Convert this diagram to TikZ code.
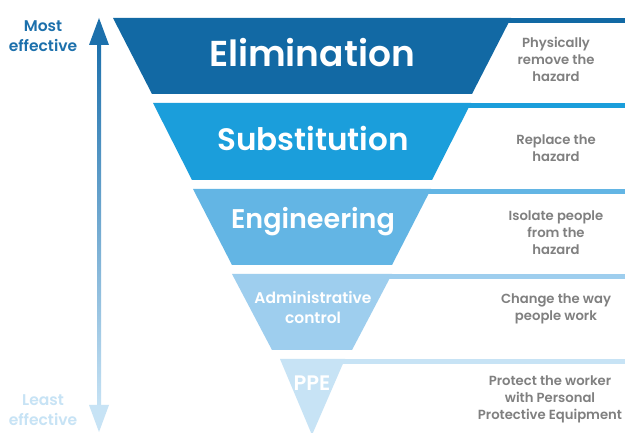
\documentclass[tikz,border=0pt]{standalone}
\usepackage{fontspec}
\setmainfont{Poppins}[BoldFont={* SemiBold}]
\begin{document}
\definecolor{elimc}{RGB}{18,105,164}
\definecolor{subc}{RGB}{27,158,219}
\definecolor{engc}{RGB}{99,181,228}
\definecolor{admc}{RGB}{158,206,238}
\definecolor{ppec}{RGB}{199,227,245}
\definecolor{mostc}{RGB}{28,112,172}
\definecolor{notec}{RGB}{128,128,128}
\begin{tikzpicture}[x=1pt,y=-1pt,
  title/.style={text=white,font=\bfseries\fontsize{#1}{#1}\selectfont,inner sep=0pt},
  sub title/.style={text=white,align=center,font=\bfseries\fontsize{15.5}{20}\selectfont,inner sep=0pt},
  note/.style={text=notec,align=center,font=\bfseries\fontsize{13.2}{17}\selectfont,inner sep=0pt},
  scale label/.style={align=center,font=\bfseries\fontsize{15.5}{20}\selectfont,inner sep=0pt}]
\useasboundingbox (0,0) rectangle (625,433);
\fill[white] (0,0) rectangle (625,433);

% hierarchy bands: trapezoid plus a stripe running to the right edge
\fill[elimc] (113,18) -- (511,18) -- (472,94) -- (152,94) -- cycle;
\fill[elimc] (500,18) rectangle (625,23);
\fill[subc] (153,103) -- (471,103) -- (432,180) -- (192,180) -- cycle;
\fill[subc] (460,103) rectangle (625,108);
\fill[engc] (193,189) -- (431,189) -- (392,265) -- (232,265) -- cycle;
\fill[engc] (420,189) rectangle (625,194);
\fill[admc] (232,274) -- (392,274) -- (352,350) -- (272,350) -- cycle;
\fill[admc] (380,274) rectangle (625,279);
\fill[ppec] (280,359) -- (345,359) -- (312,435) -- cycle;
\fill[ppec] (335,359) rectangle (625,364);

% band titles
\node[title=36] (elim) at (312,53) {Elimination};
\node[title=31] (subst) at (313,138) {Substitution};
\node[title=27] (eng) at (313,222) {Engineering};
\node[sub title] (adm) at (313,307) {Administrative\\control};
\node[title=21] (ppe) at (312,383) {PPE};

% descriptions
\node[note] (d1) at (556,59) {Physically\\remove the\\hazard};
\node[note] (d2) at (556,148) {Replace the\\hazard};
\node[note] (d3) at (556,233) {Isolate people\\from the\\hazard};
\node[note] (d4) at (556,309) {Change the way\\people work};
\node[note] (d5) at (550,399) {Protect the worker\\with Personal\\Protective Equipment};

% effectiveness scale
\node[scale label,text=mostc] (most) at (43,36) {Most\\effective};
\node[scale label,text=ppec] (least) at (43,410) {Least\\effective};
\coordinate (up) at (99,18);
\coordinate (down) at (99,432);
\shade[top color=mostc,bottom color=ppec] (97,40) rectangle (101,410);
\fill[mostc] (up) -- ++(10,27) -- ++(-20,0) -- cycle;
\fill[ppec] (down) -- ++(10,-27) -- ++(-20,0) -- cycle;
\end{tikzpicture}
\end{document}
